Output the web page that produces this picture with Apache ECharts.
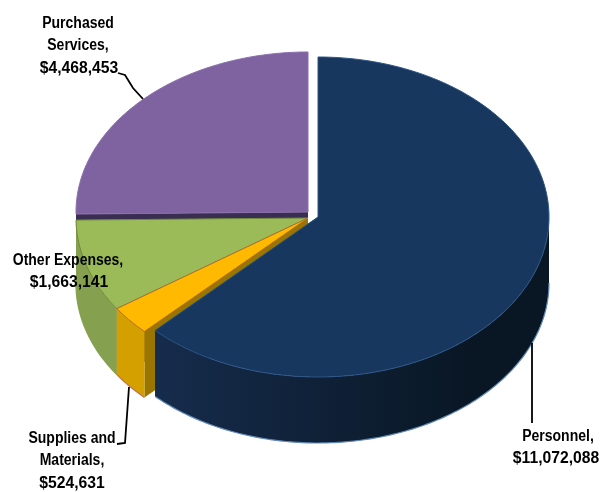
<!DOCTYPE html>
<html>
<head>
<meta charset="utf-8">
<style>html,body{margin:0;padding:0;background:#fff}#chart{width:611px;height:492px}</style>
<script src="https://cdn.jsdelivr.net/npm/echarts@6/dist/echarts.min.js"></script>
</head>
<body>
<div id="chart"></div>
<script>
// Budget by expense type, clockwise from twelve o'clock.
const categories = ['Personnel', 'Supplies and Materials', 'Other Expenses', 'Purchased Services'];
const amounts = [11072088, 524631, 1663141, 4468453];

// Styling and placement of each slice, in the same order as the categories.
const looks = [
  { top: '#17375e', edge: '#2c5587', wallLeft: '#162c4c', wallRight: '#091724', face: '#0d2036', rim: '#5f89b8', cx: 318, cy: 217, rx: 231 },
  { top: '#ffba00', edge: '#b8702c', wallLeft: '#d3a000', wallRight: '#d3a000', face: '#9a7500', rim: '#c0705a', cx: 308, cy: 218, rx: 232 },
  { top: '#9bbb59', edge: '#6f8a3e', wallLeft: '#85a04e', wallRight: '#85a04e', face: '#5e7338', rim: '#85a04e', cx: 308, cy: 218, rx: 232 },
  { top: '#7f63a1', edge: '#8a6fab', wallLeft: '#5a4578', wallRight: '#5a4578', face: '#3a2d52', rim: '#5a4578', cx: 308, cy: 212, rx: 232 }
];
const RY = 160, DEPTH = 66;
const NAME_SQUEEZE = 0.875, AMOUNT_SQUEEZE = 0.98, LINE_HEIGHT = 22.5;
const LABEL_FONT = 'bold 16px "Liberation Sans", sans-serif';

const labels = [
  { lines: ['Personnel,'], x: 558, y: 425, amountX: 556 },
  { lines: ['Supplies and', 'Materials,'], x: 72, y: 427, amountX: 72 },
  { lines: ['Other Expenses,'], x: 68, y: 249, amountX: 69 },
  { lines: ['Purchased', 'Services,'], x: 78, y: 12, amountX: 79 }
];
const leaders = [
  [[532, 343], [532, 423]],
  [[129, 387], [125, 443], [117, 444]],
  [],
  [[118, 73], [125, 75], [133, 88], [143, 99]]
];

const total = amounts.reduce((a, b) => a + b, 0);
let running = 0;
const spans = amounts.map(v => {
  const start = running / total * 360;
  running += v;
  return [start, running / total * 360];
});

function rimPoint(look, deg, drop) {
  const t = deg * Math.PI / 180;
  return [look.cx + look.rx * Math.sin(t), look.cy - RY * Math.cos(t) + (drop || 0)];
}
function arcPoints(look, from, to, drop) {
  const pts = [], n = Math.max(2, Math.ceil(Math.abs(to - from)));
  for (let i = 0; i <= n; i++) pts.push(rimPoint(look, from + (to - from) * i / n, drop));
  return pts;
}
function labelText(text, x, y, squeeze) {
  return {
    type: 'text',
    z2: 100,
    x, y,
    scaleX: squeeze,
    style: {
      text, x: 0, y: 0,
      align: 'center', verticalAlign: 'top',
      font: LABEL_FONT, lineHeight: LINE_HEIGHT, fill: '#000'
    }
  };
}

function renderSlice(params, api) {
  const idx = api.value(0);
  const look = looks[idx], from = spans[idx][0], to = spans[idx][1];
  const centre = [look.cx, look.cy];
  const children = [];

  // Radial faces sit behind everything else of the slice.
  [from, to].forEach(deg => {
    const p = rimPoint(look, deg);
    children.push({
      type: 'polygon',
      shape: { points: [centre, p, [p[0], p[1] + DEPTH], [centre[0], centre[1] + DEPTH]] },
      style: { fill: look.face }
    });
  });

  // Curved outer wall: only the front half of the rim (90..270 degrees) shows.
  const a = Math.max(from, 90), b = Math.min(to, 270);
  if (b > a) {
    const upper = arcPoints(look, a, b);
    const lower = arcPoints(look, b, a, DEPTH);
    children.push({
      type: 'polygon',
      shape: { points: upper.concat(lower) },
      style: {
        fill: new echarts.graphic.LinearGradient(0, 0, 1, 0, [
          { offset: 0, color: look.wallLeft },
          { offset: 0.8, color: look.wallRight },
          { offset: 1, color: look.wallRight }
        ])
      }
    });
    children.push({
      type: 'polyline',
      shape: { points: arcPoints(look, a, b, DEPTH) },
      style: { fill: 'none', stroke: look.rim, lineWidth: 1.2 }
    });
  }

  // Top surface.
  children.push({
    type: 'polygon',
    shape: { points: [centre].concat(arcPoints(look, from, to)) },
    style: { fill: look.top, stroke: look.edge, lineWidth: 1 }
  });

  // Leader line and label.
  if (leaders[idx].length) {
    children.push({
      type: 'polyline',
      shape: { points: leaders[idx] },
      style: { fill: 'none', stroke: '#000', lineWidth: 1.8 }
    });
  }
  const lab = labels[idx];
  children.push(labelText(lab.lines.join('\n'), lab.x, lab.y, NAME_SQUEEZE));
  children.push(labelText('$' + amounts[idx].toLocaleString('en-US'),
    lab.amountX, lab.y + lab.lines.length * LINE_HEIGHT, AMOUNT_SQUEEZE));
  return { type: 'group', children };
}

const chart = echarts.init(document.getElementById('chart'), null, { renderer: 'canvas' });
chart.setOption({
  animation: false,
  backgroundColor: '#fff',
  series: [{
    type: 'custom',
    coordinateSystem: 'none',
    renderItem: renderSlice,
    // Painted from the back of the pie to the front.
    data: [3, 2, 1, 0].map(i => ({ name: categories[i], value: [i, amounts[i]] }))
  }]
});
</script>
</body>
</html>
